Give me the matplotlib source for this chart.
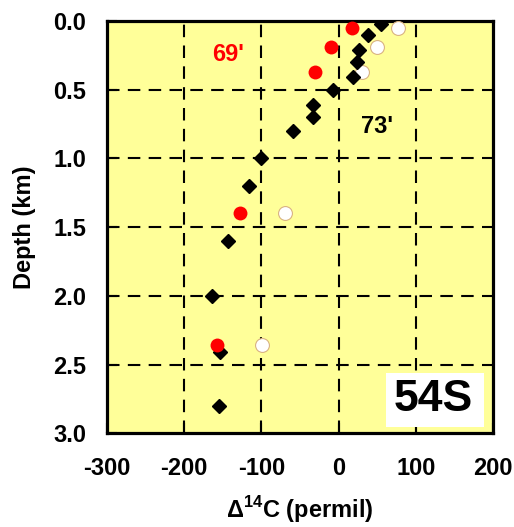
import numpy as np
import matplotlib
matplotlib.use('Agg')
import matplotlib.pyplot as plt
from matplotlib.patches import Rectangle

# black diamonds (73')
d73_x = [55, 38, 27, 24, 19, -7, -33, -33, -59, -101, -116, -143, -164, -154, -155]
d73_depth = [0.02, 0.10, 0.21, 0.30, 0.41, 0.50, 0.61, 0.70, 0.80, 1.00, 1.20, 1.60, 2.00, 2.41, 2.80]

# red circles (69')
r69_x = [17, -10, -31, -128, -158]
r69_depth = [0.05, 0.19, 0.37, 1.40, 2.36]

# open circles
w_x = [77, 50, 31, -69, -99]
w_depth = [0.05, 0.19, 0.37, 1.40, 2.36]

xticks = [-300, -200, -100, 0, 100, 200]
yticks = [0.0, 0.5, 1.0, 1.5, 2.0, 2.5, 3.0]

plt.rcParams['font.family'] = ['Liberation Sans', 'DejaVu Sans']
plt.rcParams['font.weight'] = 'bold'
plt.rcParams['axes.unicode_minus'] = False
plt.rcParams['mathtext.fontset'] = 'custom'
plt.rcParams['mathtext.rm'] = 'Liberation Sans'
plt.rcParams['mathtext.bf'] = 'Liberation Sans:bold'

fig = plt.figure(figsize=(5.14, 5.27), dpi=100)
ax = fig.add_axes([0.208, 0.178, 0.751, 0.782])
ax.set_facecolor('#ffff99')

for gx in xticks[1:-1]:
    ax.axvline(gx, color='black', lw=1.5, dashes=(6, 4), zorder=1)
for gy in yticks[1:-1]:
    ax.axhline(gy, color='black', lw=1.5, dashes=(6, 4), zorder=1)

ax.plot(w_x, w_depth, 'o', ms=10, mfc='white', mec='#d9b382', mew=0.8, zorder=3)
ax.plot(d73_x, d73_depth, 'D', ms=7.2, color='black', zorder=4)
ax.plot(r69_x, r69_depth, 'o', ms=10, mfc='#ff0000', mec='none', zorder=5)

ax.text(-143, 0.24, "69'", color='#ff0000', fontsize=17, fontweight='bold', ha='center', va='center')
ax.text(50, 0.77, "73'", color='black', fontsize=17, fontweight='bold', ha='center', va='center')
ax.add_patch(Rectangle((0.723, 0.0146), 0.254, 0.131, transform=ax.transAxes,
                       fc='white', ec='none', zorder=6))
ax.text(0.845, 0.0825, '54S', transform=ax.transAxes, fontsize=32, fontweight='bold',
        ha='center', va='center', zorder=7)

ax.set_xlim(-300, 200)
ax.set_ylim(3.0, 0.0)
ax.set_xticks(xticks)
ax.set_yticks(yticks)
ax.set_yticklabels([f'{v:.1f}' for v in yticks])
ax.tick_params(direction='in', length=7, width=1.5, labelsize=17, top=False, right=False)
ax.tick_params(axis='x', pad=17)
ax.tick_params(axis='y', pad=15)
for s in ax.spines.values():
    s.set_linewidth(2.3)

ax.set_xlabel(r'$\Delta^{\mathbf{14}}$C (permil)', fontsize=17, fontweight='bold', labelpad=10)
ax.set_ylabel('Depth (km)', fontsize=17, fontweight='bold', labelpad=12)

fig.savefig('out.png', dpi=100)
